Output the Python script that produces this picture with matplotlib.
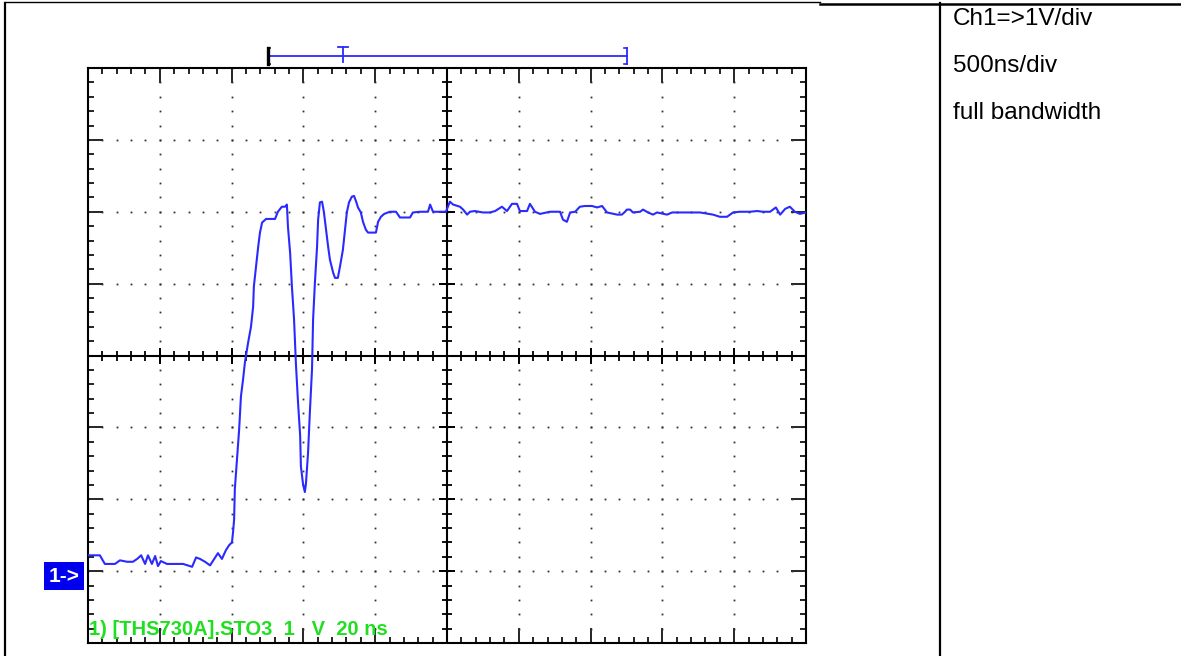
import numpy as np
import matplotlib.pyplot as plt
from matplotlib.lines import Line2D

# scope settings (20 ns/div, 1 V/div, ground marker at 0 V)
t_min, t_max = 0, 200
v_min, v_max = -1, 7
t_div, v_div = 20, 1

# captured trace: time in ns, volts
t_ns = [0, 3.3, 4.7, 7.5, 8.9, 10.9, 12.5, 13.7, 14.8, 15.9, 16.7, 17.8, 18.7, 19.5,
        20.3, 22.0, 24.2, 26.5, 29.0, 30.1, 31.2, 32.6, 34.0, 35.4, 36.2, 37.3, 38.4,
        39.3, 40.1, 40.4, 40.7, 40.9, 41.5, 42.1, 42.6, 43.2, 43.7, 44.6, 45.4, 46.0,
        46.2, 46.8, 47.4, 47.9, 48.5, 49.6, 52.1, 52.9, 54.0, 54.9, 55.4, 55.7, 56.3,
        56.8, 57.4, 57.9, 58.5, 59.1, 59.3, 59.9, 60.4, 60.7, 61.3, 61.8, 62.4, 62.7,
        63.2, 63.8, 64.1, 64.6, 65.2, 65.7, 66.3, 66.9, 67.4, 68.3, 68.8, 69.6, 70.2,
        71.0, 71.6, 72.1, 72.7, 73.5, 74.1, 74.7, 75.2, 76.0, 76.6, 77.4, 78.0, 80.2,
        80.8, 81.6, 82.5, 84.1, 85.8, 86.9, 89.7, 90.5, 92.5, 94.7, 95.3, 96.1, 99.7,
        100.8, 101.7, 103.6, 104.5, 105.6, 106.4, 107.8, 110.0, 112.0, 113.4, 115.3,
        116.7, 118.1, 119.5, 120.3, 122.3, 123.1, 124.5, 125.9, 128.7, 131.5, 132.3,
        133.4, 134.3, 135.7, 137.0, 138.4, 140.4, 141.8, 143.2, 144.6, 147.4, 148.7,
        149.6, 150.1, 151.0, 151.8, 153.8, 154.6, 156.0, 157.4, 158.5, 161.3, 162.7,
        170.5, 174.1, 176.0, 178.0, 179.7, 181.6, 184.4, 186.4, 188.0, 190.0, 191.6,
        192.8, 194.2, 195.5, 196.9, 198.3, 200.0]
volts = [0.22, 0.22, 0.10, 0.10, 0.15, 0.13, 0.13, 0.17, 0.22, 0.10, 0.22, 0.10, 0.21, 0.07,
         0.14, 0.10, 0.10, 0.10, 0.06, 0.19, 0.17, 0.13, 0.08, 0.19, 0.25, 0.17, 0.29,
         0.36, 0.40, 0.54, 0.72, 1.14, 1.56, 1.97, 2.43, 2.67, 2.90, 3.18, 3.40, 3.68,
         3.96, 4.24, 4.51, 4.71, 4.85, 4.90, 4.90, 5.00, 5.07, 5.07, 5.10, 4.79, 4.43,
         3.96, 3.50, 2.90, 2.35, 1.88, 1.46, 1.21, 1.10, 1.21, 1.65, 2.21, 2.81, 3.50,
         4.01, 4.51, 4.89, 5.13, 5.14, 5.00, 4.75, 4.51, 4.33, 4.15, 4.08, 4.08, 4.24,
         4.47, 4.75, 4.99, 5.13, 5.21, 5.22, 5.14, 5.06, 4.99, 4.86, 4.75, 4.71, 4.71,
         4.86, 4.93, 4.97, 5.00, 5.00, 4.92, 4.92, 4.99, 5.00, 5.00, 5.10, 5.00, 5.00,
         5.14, 5.10, 5.07, 5.03, 4.96, 5.00, 5.01, 4.99, 4.99, 5.01, 5.07,
         5.01, 5.11, 5.11, 5.01, 5.01, 5.11, 5.00, 4.97, 5.00, 5.00, 4.89,
         4.86, 4.99, 5.00, 5.07, 5.08, 5.08, 5.06, 5.08, 4.99, 4.96, 4.96,
         5.00, 5.03, 5.03, 4.99, 5.00, 5.03, 4.99, 4.96, 4.99, 4.96, 4.99,
         4.99, 4.96, 4.93, 4.93, 4.99, 5.00, 5.00, 5.01, 5.00, 5.00, 5.06,
         4.96, 5.04, 5.07, 5.00, 4.97, 4.99]

# record window bar above the screen
window_start, window_end, trigger_t = 50, 150, 71

scope_label = "1) [THS730A].STO3  1   V  20 ns"
notes = ["Ch1=>1V/div", "500ns/div", "full bandwidth"]

W, H = 1181, 656
fig = plt.figure(figsize=(W / 100, H / 100), dpi=100)
plt.rcParams['font.family'] = ['Liberation Sans', 'DejaVu Sans']

# table frame
fig.add_artist(Line2D([5 / W, 5 / W], [0, 1 - 3 / H], color='black', lw=1.6))
fig.add_artist(Line2D([5 / W, 820 / W], [1 - 2 / H, 1 - 2 / H], color='black', lw=1.0))
fig.add_artist(Line2D([820 / W, 1], [1 - 3.5 / H, 1 - 3.5 / H], color='black', lw=1.8))
fig.add_artist(Line2D([940 / W, 940 / W], [0, 1 - 3 / H], color='black', lw=1.6))

for i, s in enumerate(notes):
    fig.text(953 / W, 1 - (19 + 47 * i) / H, s, fontsize=17.5, va='center', ha='left')

ax = fig.add_axes([88 / W, 13 / H, 718 / W, 575 / H])
ax.set_xlim(t_min, t_max)
ax.set_ylim(v_min, v_max)
for sp in ax.spines.values():
    sp.set_linewidth(1.5)
ax.set_xticks(np.arange(t_min, t_max + 1, t_div))
ax.set_xticks(np.arange(t_min, t_max + 1, t_div / 5), minor=True)
ax.set_yticks(np.arange(v_min, v_max + 0.5, v_div))
ax.set_yticks(np.arange(v_min, v_max + 0.01, v_div / 5), minor=True)
ax.tick_params(which='both', direction='in', top=True, right=True,
               labelbottom=False, labelleft=False, color='black', width=1.2)
ax.tick_params(which='major', length=10.5)
ax.tick_params(which='minor', length=4.5)

# dotted graticule
t_mid = (t_min + t_max) / 2
v_mid = (v_min + v_max) / 2
ts = np.arange(t_min, t_max + 0.01, t_div / 5)
vs = np.arange(v_min, v_max + 0.01, v_div / 5)
for tg in np.arange(t_min + t_div, t_max, t_div):
    if tg != t_mid:
        ax.plot(np.full_like(vs, tg), vs, ls='none', marker='s', ms=1.3, mew=0, color='#333333')
for vg in np.arange(v_min + v_div, v_max, v_div):
    if vg != v_mid:
        ax.plot(ts, np.full_like(ts, vg), ls='none', marker='s', ms=1.3, mew=0, color='#333333')

# center cross with ticks
ax.axhline(v_mid, color='black', lw=1.5)
ax.axvline(t_mid, color='black', lw=1.5)
ax.plot(ts, np.full_like(ts, v_mid), ls='none', marker='|', ms=7, mew=1.3, color='black')
ax.plot(vs * 0 + t_mid, vs, ls='none', marker='_', ms=7, mew=1.3, color='black')
tmaj = np.arange(t_min, t_max + 1, t_div)
vmaj = np.arange(v_min, v_max + 0.5, v_div)
ax.plot(tmaj, np.full_like(tmaj, v_mid, dtype=float), ls='none', marker='|', ms=12, mew=1.4, color='black')
ax.plot(np.full_like(vmaj, t_mid, dtype=float), vmaj, ls='none', marker='_', ms=12, mew=1.4, color='black')

# trace
ax.plot(t_ns, volts, color='#2a2aff', lw=1.5, zorder=5)

# record window bar
bar_y = v_max + 0.17
ax.plot([window_start, window_end], [bar_y, bar_y], color='#2a2aff', lw=1.3, clip_on=False)
ax.plot([window_start, window_start], [bar_y - 0.11, bar_y + 0.11], color='black', lw=2.4, clip_on=False)
ax.plot([window_start, window_start + 0.8], [bar_y + 0.11, bar_y + 0.11], color='black', lw=1.2, clip_on=False)
ax.plot([window_start, window_start + 0.8], [bar_y - 0.11, bar_y - 0.11], color='black', lw=1.2, clip_on=False)
ax.plot([window_end, window_end], [bar_y - 0.11, bar_y + 0.11], color='#2a2aff', lw=1.3, clip_on=False)
ax.plot([window_end - 0.8, window_end], [bar_y + 0.11, bar_y + 0.11], color='#2a2aff', lw=1.2, clip_on=False)
ax.plot([window_end - 0.8, window_end], [bar_y - 0.11, bar_y - 0.11], color='#2a2aff', lw=1.2, clip_on=False)
ax.plot([trigger_t, trigger_t], [bar_y - 0.08, bar_y + 0.12], color='#2a2aff', lw=1.3, clip_on=False)
ax.plot([trigger_t - 1.3, trigger_t + 1.3], [bar_y + 0.12, bar_y + 0.12], color='#2a2aff', lw=1.3, clip_on=False)

# ground marker
fig.text(49 / W, 1 - 576 / H, "1->", fontsize=15, fontweight='bold', color='white',
         va='center', ha='left',
         bbox=dict(boxstyle='square,pad=0.22', fc='#0000ee', ec='none'))

# scope caption
ax.text(0.3, v_min + 0.05, scope_label, color='#1fe01f', fontsize=14.5, fontweight='bold',
        ha='left', va='bottom', zorder=6)

fig.savefig('out.png', dpi=100)
